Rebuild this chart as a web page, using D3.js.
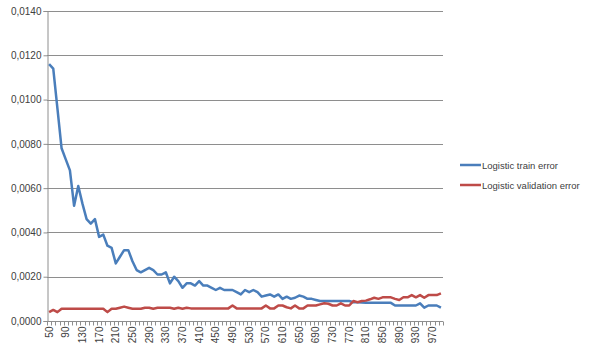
<!DOCTYPE html>
<html><head><meta charset="utf-8">
<script src="https://cdn.jsdelivr.net/npm/d3@7/dist/d3.min.js"></script>
<style>body{margin:0;background:#fff;}svg{display:block;font-family:"Liberation Sans",Arial,sans-serif;}</style>
</head><body>
<script>
const categories = d3.range(50, 1000, 10).map(String);
const trainError = [
0.0116,0.0114,0.0096,0.0078,0.0073,0.0068,0.0052,0.0061,0.0053,0.0046,
0.0044,0.0046,0.0038,0.0039,0.0034,0.0033,0.0026,0.0029,0.0032,0.0032,
0.0027,0.0023,0.0022,0.0023,0.0024,0.0023,0.0021,0.0021,0.0022,0.0017,
0.0020,0.0018,0.0015,0.0017,0.0017,0.0016,0.0018,0.0016,0.0016,0.0015,
0.0014,0.0015,0.0014,0.0014,0.0014,0.0013,0.0012,0.0014,0.0013,0.0014,
0.0013,0.0011,0.00115,0.0012,0.0011,0.0012,0.0010,0.0011,0.0010,0.00105,
0.00115,0.0011,0.0010,0.0010,0.00095,0.0009,0.0009,0.0009,0.0009,0.0009,
0.0009,0.0009,0.0009,0.00085,0.00085,0.00083,0.00082,0.00082,0.00082,0.00082,
0.00082,0.00082,0.00082,0.0007,0.0007,0.0007,0.0007,0.0007,0.0007,0.0008,
0.0006,0.0007,0.0007,0.0007,0.0006];
const validationError = [
0.0004,0.0005,0.0004,0.00055,0.00055,0.00055,0.00055,0.00055,0.00055,0.00055,
0.00055,0.00055,0.00055,0.00055,0.0004,0.00055,0.00055,0.0006,0.00065,0.0006,
0.00055,0.00055,0.00055,0.0006,0.0006,0.00055,0.0006,0.0006,0.0006,0.0006,
0.00055,0.0006,0.00055,0.0006,0.00057,0.00057,0.00057,0.00057,0.00057,0.00057,
0.00057,0.00057,0.00057,0.00057,0.0007,0.00057,0.00057,0.00057,0.00057,0.00057,
0.00057,0.00057,0.0007,0.00057,0.00057,0.0007,0.0007,0.00062,0.00057,0.0007,
0.00057,0.00057,0.0007,0.0007,0.0007,0.00075,0.0008,0.00078,0.0007,0.0007,
0.0008,0.0007,0.0007,0.0009,0.00085,0.0009,0.00092,0.00098,0.00105,0.001,
0.00107,0.00107,0.00107,0.001,0.00095,0.00107,0.00107,0.00117,0.00107,0.00117,
0.00105,0.00117,0.00117,0.00117,0.00125];
const yTicks = [0,0.002,0.004,0.006,0.008,0.010,0.012,0.014];
const seriesNames = ["Logistic train error","Logistic validation error"];
const seriesColors = ["#4A7EBB","#BE4B48"];

const W=600,H=352;
const m={left:47,right:157,top:11,bottom:31};
const svg=d3.select("body").append("svg").attr("width",W).attr("height",H);
const x=d3.scaleBand().domain(categories).range([m.left,W-m.right]);
const y=d3.scaleLinear().domain([0,0.014]).range([H-m.bottom,m.top]);
const fmt=v=>d3.format(".4f")(v).replace(".",",");

// gridlines
svg.append("g").selectAll("line").data(yTicks.slice(1)).join("line")
  .attr("x1",m.left).attr("x2",W-m.right)
  .attr("y1",d=>Math.round(y(d))+0.5).attr("y2",d=>Math.round(y(d))+0.5)
  .attr("stroke","#8e8e8e").attr("stroke-width",1);

// y axis
const ya=svg.append("g").attr("transform",`translate(${m.left+0.5},0)`)
  .call(d3.axisLeft(y).tickValues(yTicks).tickFormat(fmt).tickSize(4).tickPadding(2));
ya.select(".domain").attr("stroke","#8e8e8e");
ya.selectAll(".tick line").attr("stroke","#8e8e8e");
ya.selectAll(".tick text").attr("font-size",10).attr("fill","#404040").attr("font-family","Liberation Sans, Arial, sans-serif");

// x axis
const xa=svg.append("g").attr("transform",`translate(0,${Math.round(y(0))+0.5})`);
xa.append("line").attr("x1",m.left).attr("x2",W-m.right).attr("stroke","#8e8e8e");
const bounds=categories.map(c=>x(c)).concat([x(categories[categories.length-1])+x.bandwidth()]);
xa.selectAll("line.t").data(bounds).join("line").attr("class","t")
  .attr("x1",d=>Math.round(d)+0.5).attr("x2",d=>Math.round(d)+0.5).attr("y1",0).attr("y2",4)
  .attr("stroke","#8e8e8e");
xa.selectAll("text").data(categories.filter((c,i)=>i%4===0)).join("text")
  .attr("transform",d=>`translate(${x(d)+x.bandwidth()/2+3.5},5) rotate(-90)`)
  .attr("text-anchor","end").attr("font-size",10).attr("fill","#404040")
  .text(d=>d);

// lines
const line=d3.line().x((d,i)=>x(categories[i])+x.bandwidth()/2).y(d=>y(d));
[trainError,validationError].forEach((s,k)=>{
  svg.append("path").datum(s).attr("d",line).attr("fill","none")
    .attr("stroke",seriesColors[k]).attr("stroke-width",2.5).attr("stroke-linejoin","round");
});

// legend
const lg=svg.append("g");
seriesNames.forEach((n,k)=>{
  const ly=165+k*20;
  lg.append("line").attr("x1",460).attr("x2",481).attr("y1",ly).attr("y2",ly)
    .attr("stroke",seriesColors[k]).attr("stroke-width",2.5);
  lg.append("text").attr("x",482).attr("y",ly+3.5).attr("font-size",9.5).attr("fill","#404040").text(n);
});
</script>
</body></html>
